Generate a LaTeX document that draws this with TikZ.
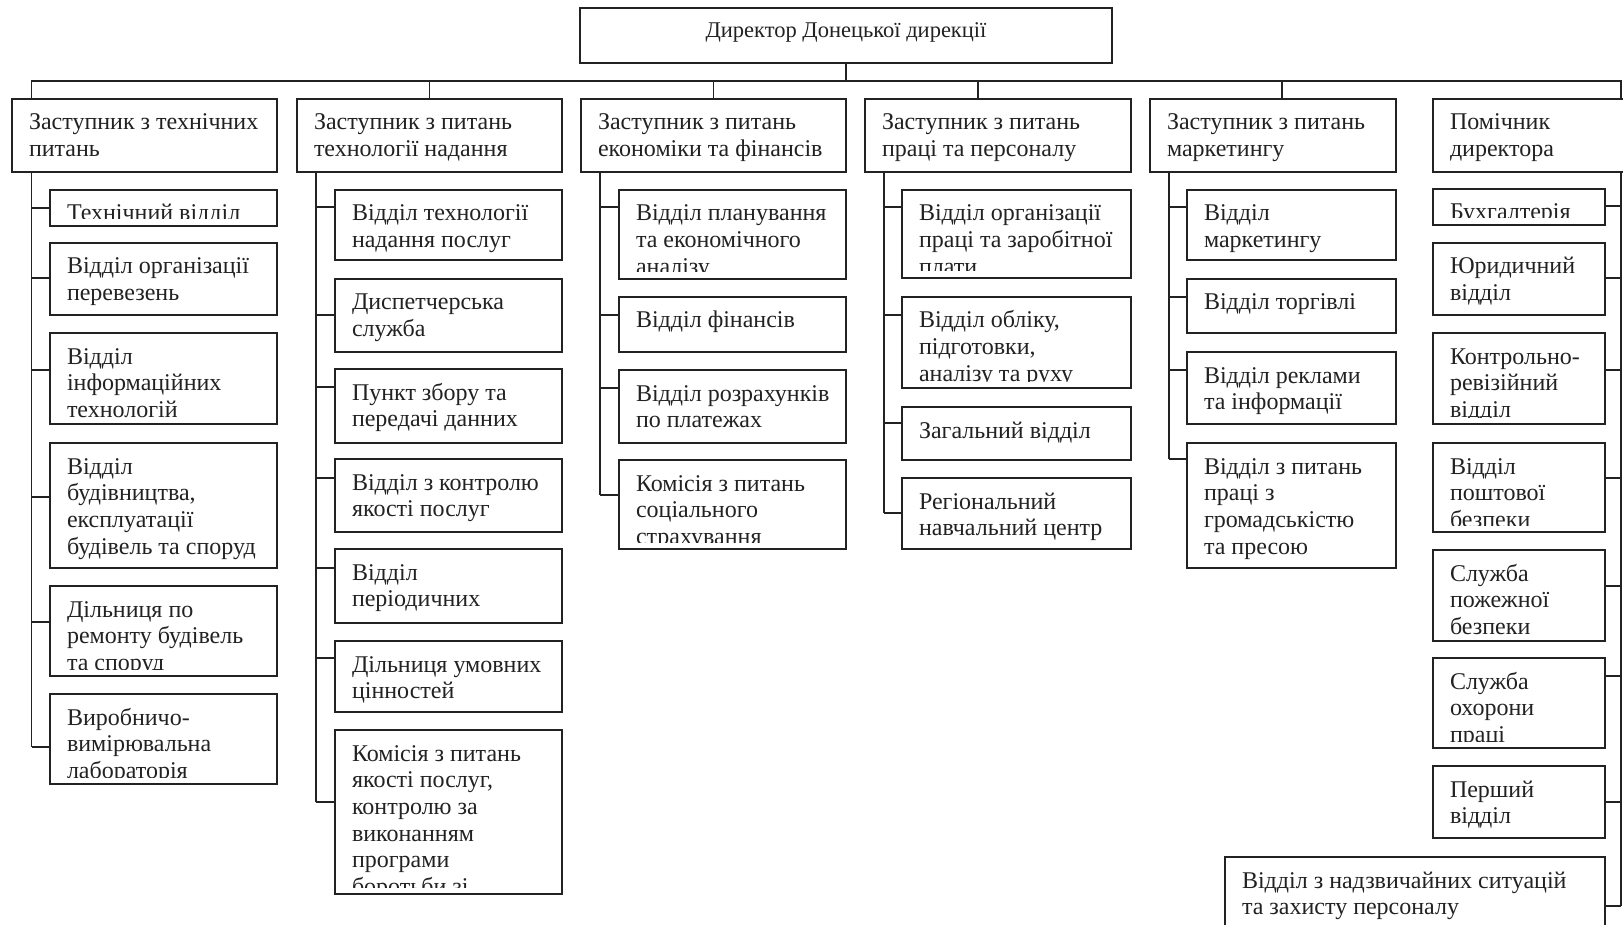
\documentclass[tikz,border=0pt]{standalone}
\usepackage{fontspec}
\setmainfont{Liberation Serif}
\usetikzlibrary{calc}

\definecolor{ink}{HTML}{222222}

\tikzset{
  unit/.style={draw=ink, line width=1.7pt, rectangle, inner sep=0pt, outer sep=0pt},
  link/.style={draw=ink, line width=1.7pt},
  label/.style={anchor=base west, inner sep=0pt, text=ink, font=\fontsize{24}{26.7}\selectfont},
}

% text of a box: lines set left-aligned, first baseline on the anchor
\newcommand\boxtext[1]{\parbox[t]{600pt}{\fontsize{24}{26.7}\selectfont #1}}

% \unitbox{name}{left}{top}{right}{bottom}{text}: framed box whose text is cut off at its lower margin
\newcommand\unitbox[6]{%
  \node[unit, anchor=north west,
    minimum width={(#4-#2)*1pt}, minimum height={(#5-#3)*1pt},
    path picture={
      \clip (path picture bounding box.north west) rectangle ([yshift=7pt]path picture bounding box.south east);
      \node[label] at ([xshift=17pt,yshift=-31pt]path picture bounding box.north west) {\boxtext{#6}};
    }] (#1) at (#2,#3) {};}

% short horizontal ties from a spine to a box
\newcommand\stubL[3]{\draw[link] (#1 |- 0,#3) -- (#2.west |- 0,#3);}
\newcommand\stubR[3]{\draw[link] (#2.east |- 0,#3) -- (#1 |- 0,#3);}

\begin{document}
\begin{tikzpicture}[x=1pt,y=-1pt]
\useasboundingbox (0,0) rectangle (1623,925);
\clip (0,0) rectangle (1623,925);
\fill[white] (0,0) rectangle (1623,925);

% director
\node[unit, anchor=north west, minimum width=532pt, minimum height=55pt] (dir) at (580,8) {};
\node[anchor=base, inner sep=0pt, text=ink, font=\fontsize{22.5}{26}\selectfont] (dirt) at (846,38) {Директор Донецької дирекції};

% deputies and assistant
\unitbox{h1}{12}{99}{277}{172}{Заступник з технічних\\питань}
\unitbox{h2}{297}{99}{562}{172}{Заступник з питань\\технології надання}
\unitbox{h3}{581}{99}{846}{172}{Заступник з питань\\економіки та фінансів}
\unitbox{h4}{865}{99}{1131}{172}{Заступник з питань\\праці та персоналу}
\unitbox{h5}{1150}{99}{1396}{172}{Заступник з питань\\маркетингу}
\unitbox{h6}{1433}{99}{1628}{172}{Помічник\\директора}

% technical deputy
\unitbox{b11}{50}{190}{277}{226}{Технічний відділ}
\unitbox{b12}{50}{243}{277}{315}{Відділ організації\\перевезень}
\unitbox{b13}{50}{333}{277}{424}{Відділ\\інформаційних\\технологій}
\unitbox{b14}{50}{443}{277}{568}{Відділ\\будівництва,\\експлуатації\\будівель та споруд}
\unitbox{b15}{50}{586}{277}{676}{Дільниця по\\ремонту будівель\\та споруд}
\unitbox{b16}{50}{694}{277}{784}{Виробничо-\\вимірювальна\\лабораторія}

% service technology deputy
\unitbox{b21}{335}{190}{562}{260}{Відділ технології\\надання послуг}
\unitbox{b22}{335}{279}{562}{352}{Диспетчерська\\служба}
\unitbox{b23}{335}{369}{562}{443}{Пункт збору та\\передачі данних}
\unitbox{b24}{335}{459}{562}{532}{Відділ з контролю\\якості послуг}
\unitbox{b25}{335}{549}{562}{623}{Відділ\\періодичних}
\unitbox{b26}{335}{641}{562}{712}{Дільниця умовних\\цінностей}
\unitbox{b27}{335}{730}{562}{894}{Комісія з питань\\якості послуг,\\контролю за\\виконанням\\програми\\боротьби зі}

% economics deputy
\unitbox{b31}{619}{190}{846}{279}{Відділ планування\\та економічного\\аналізу}
\unitbox{b32}{619}{297}{846}{352}{Відділ фінансів}
\unitbox{b33}{619}{370}{846}{443}{Відділ розрахунків\\по платежах}
\unitbox{b34}{619}{460}{846}{549}{Комісія з питань\\соціального\\страхування}

% personnel deputy
\unitbox{b41}{902}{190}{1131}{278}{Відділ організації\\праці та заробітної\\плати}
\unitbox{b42}{902}{297}{1131}{388}{Відділ обліку,\\підготовки,\\аналізу та руху}
\unitbox{b43}{902}{407}{1131}{460}{Загальний відділ}
\unitbox{b44}{902}{478}{1131}{549}{Регіональний\\навчальний центр}

% marketing deputy
\unitbox{b51}{1187}{190}{1396}{260}{Відділ\\маркетингу}
\unitbox{b52}{1187}{279}{1396}{333}{Відділ торгівлі}
\unitbox{b53}{1187}{352}{1396}{424}{Відділ реклами\\та інформації}
\unitbox{b54}{1187}{443}{1396}{568}{Відділ з питань\\праці з\\громадськістю\\та пресою}

% assistant
\unitbox{b61}{1433}{189}{1605}{225}{Бухгалтерія}
\unitbox{b62}{1433}{243}{1605}{315}{Юридичний\\відділ}
\unitbox{b63}{1433}{333}{1605}{424}{Контрольно-\\ревізійний\\відділ}
\unitbox{b64}{1433}{443}{1605}{532}{Відділ\\поштової\\безпеки}
\unitbox{b65}{1433}{550}{1605}{641}{Служба\\пожежної\\безпеки}
\unitbox{b66}{1433}{658}{1605}{748}{Служба\\охорони\\праці}
\unitbox{b67}{1433}{766}{1605}{838}{Перший\\відділ}
\unitbox{b68}{1225}{857}{1605}{935}{Відділ з надзвичайних ситуацій\\та захисту персоналу}

% main bus
\coordinate (busL) at (31.5,81);
\coordinate (busR) at (1621,81);
\coordinate (d4) at (978,81);
\coordinate (d5) at (1282,81);
\draw[link] (dir.south) -- (dir.south |- busL);
\draw[link] (busL |- h1.north) -- (busL) -- (busR) -- (busR |- h6.north);
\draw[link] (h2.north) -- (h2.north |- busL);
\draw[link] (h3.north) -- (h3.north |- busL);
\draw[link] (d4) -- (d4 |- h4.north);
\draw[link] (d5) -- (d5 |- h5.north);

% spines
\coordinate (s1) at (31.5,0);
\coordinate (s2) at (316,0);
\coordinate (s3) at (600,0);
\coordinate (s4) at (884,0);
\coordinate (s5) at (1169,0);
\coordinate (s6) at (1621,0);
\draw[link] (s1 |- h1.south) -- (s1 |- 0,747);
\draw[link] (s2 |- h2.south) -- (s2 |- 0,802);
\draw[link] (s3 |- h3.south) -- (s3 |- 0,495);
\draw[link] (s4 |- h4.south) -- (s4 |- 0,513);
\draw[link] (s5 |- h5.south) -- (s5 |- 0,459);
\draw[link] (s6 |- h6.south) -- (s6 |- 0,906);

\stubL{s1}{b11}{208}\stubL{s1}{b12}{278}\stubL{s1}{b13}{370}
\stubL{s1}{b14}{497}\stubL{s1}{b15}{622}\stubL{s1}{b16}{747}

\stubL{s2}{b21}{207}\stubL{s2}{b22}{315}\stubL{s2}{b23}{387}\stubL{s2}{b24}{478}
\stubL{s2}{b25}{568}\stubL{s2}{b26}{658}\stubL{s2}{b27}{802}

\stubL{s3}{b31}{207}\stubL{s3}{b32}{315}\stubL{s3}{b33}{388}\stubL{s3}{b34}{495}

\stubL{s4}{b41}{207}\stubL{s4}{b42}{315}\stubL{s4}{b43}{423}\stubL{s4}{b44}{513}

\stubL{s5}{b51}{207}\stubL{s5}{b52}{297}\stubL{s5}{b53}{370}\stubL{s5}{b54}{459}

\stubR{s6}{b61}{206}\stubR{s6}{b62}{278}\stubR{s6}{b63}{370}\stubR{s6}{b64}{478}
\stubR{s6}{b65}{586}\stubR{s6}{b66}{676}\stubR{s6}{b67}{802}\stubR{s6}{b68}{906}
\end{tikzpicture}
\end{document}
